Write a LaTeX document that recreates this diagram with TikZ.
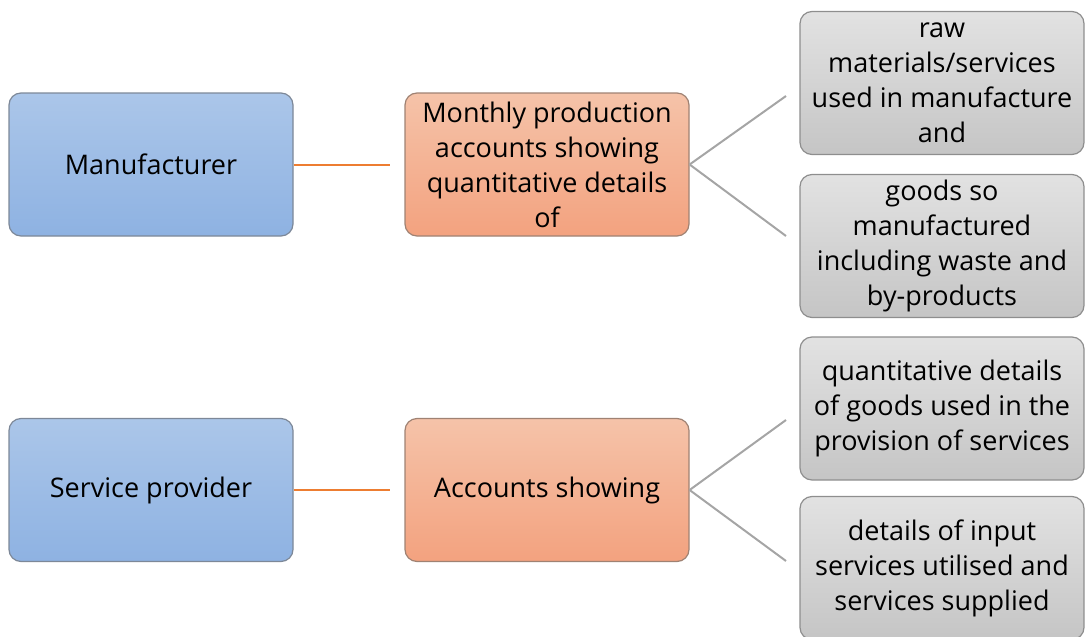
\documentclass[tikz,border=0pt]{standalone}
\usepackage{fontspec}
\setmainfont{Open Sans}
\definecolor{bluetop}{HTML}{ABC6E9}
\definecolor{bluebot}{HTML}{8EB2E2}
\definecolor{blueedge}{HTML}{7D8898}
\definecolor{orangetop}{HTML}{F5C3A9}
\definecolor{orangebot}{HTML}{F3A27F}
\definecolor{orangeedge}{HTML}{9F8273}
\definecolor{greytop}{HTML}{E2E2E2}
\definecolor{greybot}{HTML}{C5C5C5}
\definecolor{greyedge}{HTML}{8E8E8E}
\definecolor{orangeline}{HTML}{ED7D31}
\definecolor{greyline}{HTML}{A5A5A5}
\begin{document}
\begin{tikzpicture}[x=1pt,y=-1pt,
  box/.style={rectangle, rounded corners=12pt, line width=1.2pt, minimum width=284pt,
    minimum height=143pt, align=center, inner sep=0pt,
    font=\fontsize{27}{35}\selectfont},
  bluebox/.style={box, draw=blueedge, top color=bluetop, bottom color=bluebot},
  orangebox/.style={box, draw=orangeedge, top color=orangetop, bottom color=orangebot},
  greybox/.style={box, draw=greyedge, top color=greytop, bottom color=greybot},
  oline/.style={draw=orangeline, line width=2pt},
  gline/.style={draw=greyline, line width=2pt}]
\useasboundingbox (0,0) rectangle (1085,637);
\node[bluebox] (man) at (151,164.5) {Manufacturer};
\node[orangebox] (mpa) at (547,164.5) {Monthly production\\accounts showing\\quantitative details\\of};
\node[greybox] (raw) at (942,83) {raw\\materials/services\\used in manufacture\\and};
\node[greybox] (goods) at (942,246) {goods so\\manufactured\\including waste and\\by-products};
\node[bluebox] (sp) at (151,490) {Service provider};
\node[orangebox] (acc) at (547,490) {Accounts showing};
\node[greybox] (qd) at (942,408.5) {quantitative details\\of goods used in the\\provision of services};
\node[greybox] (dis) at (942,568) {details of input\\services utilised and\\services supplied};
\coordinate (c1) at (390,164.5);
\coordinate (c2) at (390,490);
\coordinate (g1) at (786,96);
\coordinate (g2) at (786,236);
\coordinate (g3) at (786,420);
\coordinate (g4) at (786,561);
\draw[oline] (man.east) -- (c1);
\draw[oline] (sp.east) -- (c2);
\draw[gline] (mpa.east) -- (g1);
\draw[gline] (mpa.east) -- (g2);
\draw[gline] (acc.east) -- (g3);
\draw[gline] (acc.east) -- (g4);
\end{tikzpicture}
\end{document}
